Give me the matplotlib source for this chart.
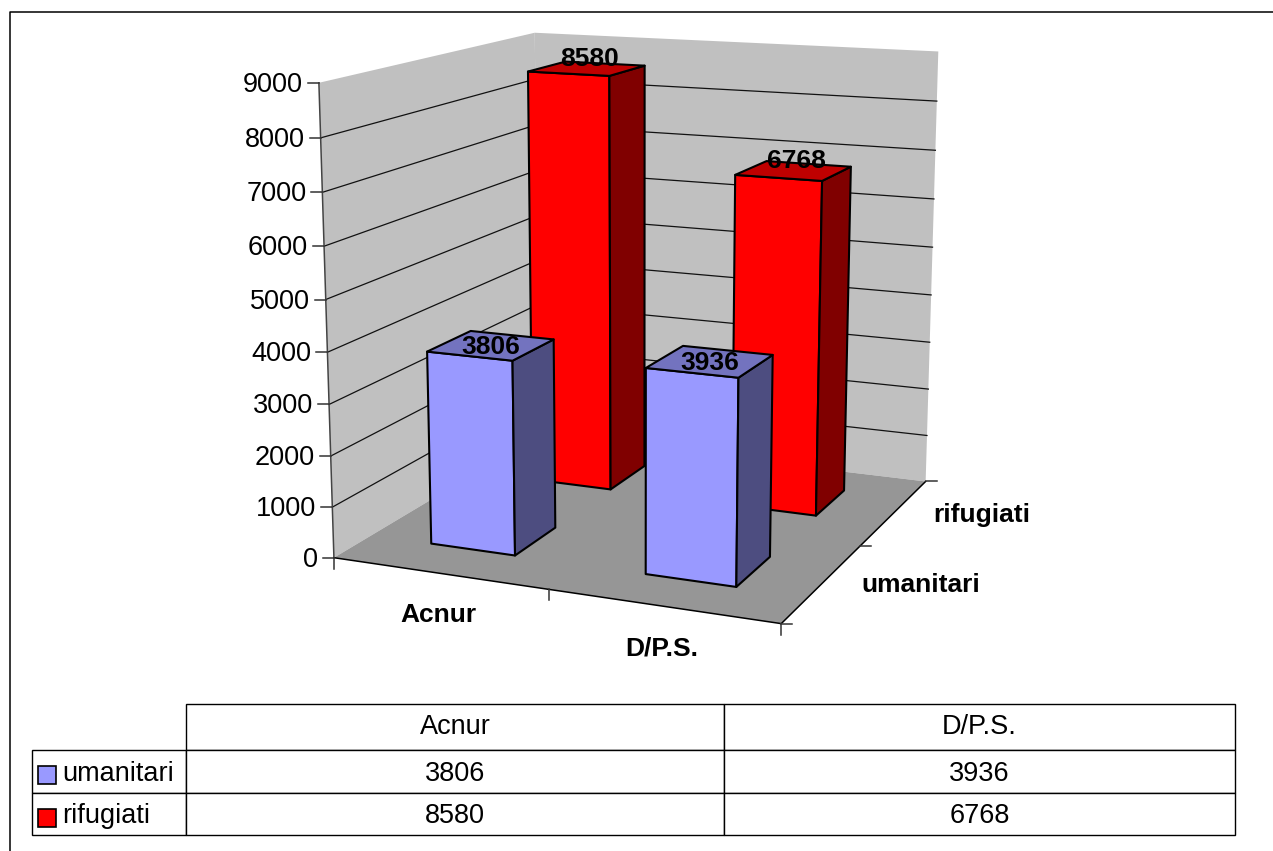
import matplotlib
matplotlib.use('Agg')
import matplotlib.pyplot as plt
from matplotlib.patches import Polygon, Rectangle
import numpy as np

plt.rcParams['font.family'] = ['Liberation Sans', 'DejaVu Sans']

# Dati del grafico
categorie = ['Acnur', 'D/P.S.']
serie = ['umanitari', 'rifugiati']
umanitari = [3806, 3936]
rifugiati = [8580, 6768]
tick_valori = list(range(0, 10000, 1000))
z_max = 9000

colori = ['#9999FF', '#FF0000']
colori_lato = ['#4D4D80', '#800000']
colori_top = ['#7373BF', '#BF0000']

# Riferimenti della scatola 3D sull'immagine (x categoria, y serie, z valore) -> pixel
rif_3d = [(0, 0, 0), (0, 0, 9000), (2, 0, 0), (2, 2, 0), (2, 2, 9000), (0, 2, 9000),
          (0, 0, 4000), (2, 2, 4000), (0, 2, 0)]
rif_px = [(334, 556), (319, 83.5), (781.7, 625), (926, 480), (938.7, 51.7), (535, 32),
          (326.8, 352), (930, 295), (539, 437)]


# Calcola la matrice di proiezione con i riferimenti
def calcola_camera(punti, pixel):
    righe = []
    for (x, y, z), (u, v) in zip(punti, pixel):
        p = [x, y, z / z_max, 1]
        righe.append(p + [0, 0, 0, 0] + [-u * c for c in p])
        righe.append([0, 0, 0, 0] + p + [-v * c for c in p])
    _, _, vh = np.linalg.svd(np.array(righe))
    return vh[-1].reshape(3, 4)


camera = calcola_camera(rif_3d, rif_px)


def proj(x, y, z):
    u, v, w = camera @ np.array([x, y, z / z_max, 1])
    return u / w, v / w


fig = plt.figure(figsize=(12.73, 8.51), dpi=100)
ax = fig.add_axes([0, 0, 1, 1])
ax.set_xlim(0, 1273)
ax.set_ylim(851, 0)
ax.axis('off')

# Cornice esterna, solo sinistra e sopra si vedono
ax.plot([10, 10, 1273], [851, 12, 12], color='black', lw=1.1, zorder=1)

# Pareti e pavimento
ax.add_patch(Polygon([proj(0, 0, 0), proj(0, 0, z_max), proj(0, 2, z_max), proj(0, 2, 0)],
                     fc='#C0C0C0', ec='none', zorder=2))
ax.add_patch(Polygon([proj(0, 2, 0), proj(0, 2, z_max), proj(2, 2, z_max), proj(2, 2, 0)],
                     fc='#C0C0C0', ec='none', zorder=2))
ax.add_patch(Polygon([proj(0, 0, 0), proj(2, 0, 0), proj(2, 2, 0), proj(0, 2, 0)],
                     fc='#969696', ec='none', zorder=2))

# Griglia sulle pareti
for val in tick_valori[1:-1]:
    pts = [proj(0, 0, val), proj(0, 2, val), proj(2, 2, val)]
    ax.plot(*zip(*pts), color='#111111', lw=0.9, zorder=3)

# Assi
ax.plot(*zip(proj(0, 0, 0), proj(0, 0, z_max)), color='#444444', lw=1.1, zorder=3)
ax.plot(*zip(proj(0, 0, 0), proj(2, 0, 0), proj(2, 2, 0)), color='black', lw=1.1, zorder=3)

for val in tick_valori:
    u, v = proj(0, 0, val)
    ax.plot([u - 11, u], [v, v], color='#333333', lw=1.1, zorder=3)
    ax.text(u - 16, v + 2, str(val), ha='right', va='center', fontsize=19.5, zorder=5)

for i in range(len(categorie) + 1):
    u, v = proj(i, 0, 0)
    ax.plot([u, u], [v, v + 11], color='#333333', lw=1.1, zorder=3)
for i in range(len(serie) + 1):
    u, v = proj(2, i, 0)
    ax.plot([u, u + 11], [v, v], color='#333333', lw=1.1, zorder=3)

for i, nome in enumerate(categorie):
    u, v = proj(i + 0.5, 0, 0)
    ax.text(u - 1, v + 42, nome, ha='center', va='center', fontsize=19, fontweight='bold', zorder=5)
for i, nome in enumerate(serie):
    u, v = proj(2, i + 0.5, 0)
    ax.text(u + 39, v + 2.5, nome, ha='left', va='center', fontsize=19, fontweight='bold', zorder=5)

# Barre, dal fondo verso il davanti
centro_x, largh = 0.492, 0.2
inizio_y, fine_y = 0.32, 0.72
scarto_etichetta = [(0, 2), (3, -10)]
valori_serie = [umanitari, rifugiati]
z = 6
for s in [1, 0]:
    for c in range(len(categorie)):
        val = valori_serie[s][c]
        x0, x1 = c + centro_x - largh, c + centro_x + largh
        y0, y1 = s + inizio_y, s + fine_y
        davanti = [proj(x0, y0, 0), proj(x1, y0, 0), proj(x1, y0, val), proj(x0, y0, val)]
        lato = [proj(x1, y0, 0), proj(x1, y1, 0), proj(x1, y1, val), proj(x1, y0, val)]
        sopra = [proj(x0, y0, val), proj(x1, y0, val), proj(x1, y1, val), proj(x0, y1, val)]
        for facce, colore in [(davanti, colori[s]), (lato, colori_lato[s]), (sopra, colori_top[s])]:
            ax.add_patch(Polygon(facce, fc=colore, ec='black', lw=1.5, joinstyle='round', zorder=z))
        u, v = proj(c + centro_x, s + (inizio_y + fine_y) / 2, val)
        ax.text(u + scarto_etichetta[s][0], v + scarto_etichetta[s][1], str(val), ha='center',
                va='center', fontsize=19, fontweight='bold', zorder=z + 1)
    z += 2

# Tabella dei dati, griglia con table e testi a mano per tenerli nelle righe giuste
larg_col = [154, 538, 511]
alt_righe = [45.5, 43.5, 42]
scarto_righe = [0.5, 2.5, 2]
testo = [[''] + categorie] + [[nome] + [str(v) for v in vals] for nome, vals in zip(serie, valori_serie)]
vuoto = [['' for _ in riga] for riga in testo]
tab = ax.table(cellText=vuoto, colWidths=larg_col, zorder=5,
               bbox=[32 / 1273, 1 - 835 / 851, 1203 / 1273, 131 / 851])
for (r, c), cella in tab.get_celld().items():
    cella.set_height(alt_righe[r])
    cella.set_linewidth(1.0)
    if r == 0 and c == 0:
        cella.visible_edges = 'open'

bordi_x = 32 + np.cumsum([0] + larg_col)
bordi_y = 704 + np.cumsum([0] + alt_righe)
for r, riga in enumerate(testo):
    ym = (bordi_y[r] + bordi_y[r + 1]) / 2 + scarto_righe[r]
    for c, stringa in enumerate(riga):
        if c == 0:
            ax.text(bordi_x[0] + 30, ym, stringa, ha='left', va='center', fontsize=19.5, zorder=7)
        else:
            ax.text((bordi_x[c] + bordi_x[c + 1]) / 2, ym, stringa, ha='center', va='center',
                    fontsize=19.5, zorder=7)

for s, centro in enumerate([775, 818]):
    ax.add_patch(Rectangle((38, centro - 9), 18, 18, fc=colori[s], ec='black', lw=1.2, zorder=7))

fig.savefig('out.png', dpi=100)
